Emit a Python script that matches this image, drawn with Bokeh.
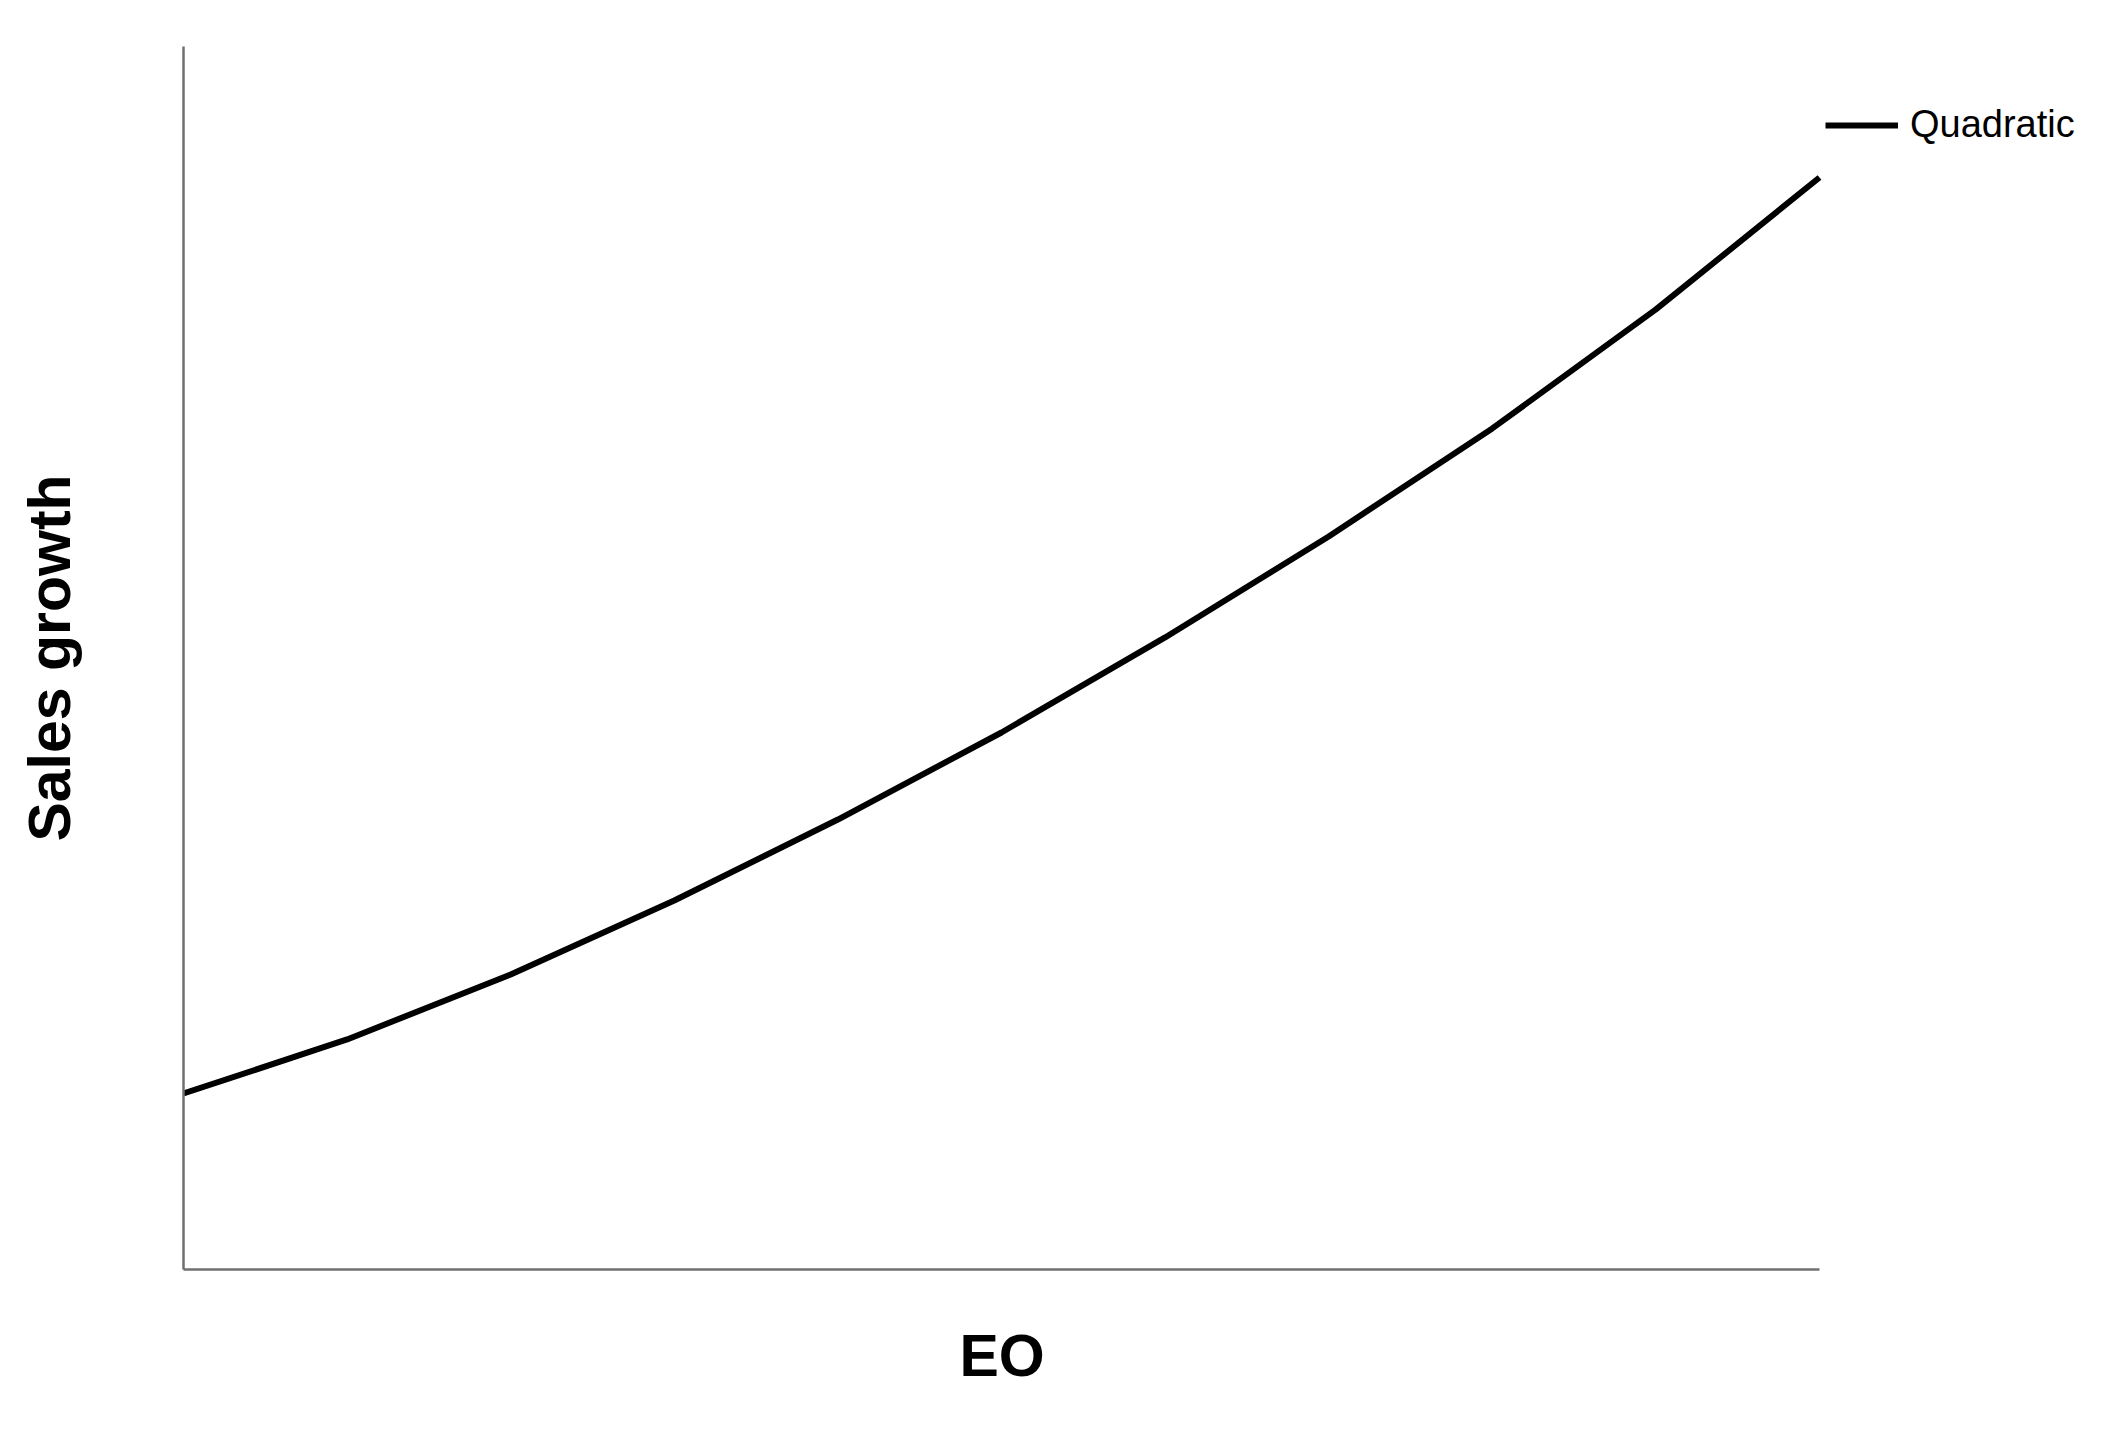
from bokeh.plotting import figure
from bokeh.models import Range1d, Legend, LegendItem, Title
from bokeh.embed import file_html
from bokeh.resources import INLINE

# Data (EO on x, Sales growth on y; arbitrary units, no ticks shown)
eo = [0, 1, 2, 3, 4, 5, 6, 7, 8, 9, 10]
sales_growth = [14.39, 18.81, 24.12, 30.17, 36.79, 43.91, 51.68, 59.94, 68.77, 78.50, 89.29]
series_name = "Quadratic"
x_label = "EO"
y_label = "Sales growth"

W, H = 2102, 1446
LEFT, RIGHT, TOP, BOTTOM = 183, 10, 46, 177
frame_w = W - LEFT - RIGHT
axis_px = 1636  # pixel length of the drawn x axis (0..10)
x_end = eo[-1] * frame_w / axis_px

p = figure(width=W, height=H, output_backend="svg", toolbar_location=None,
           x_range=Range1d(0, x_end), y_range=Range1d(0, 100),
           min_border_left=LEFT, min_border_right=RIGHT,
           min_border_top=TOP, min_border_bottom=BOTTOM)
p.background_fill_color = "white"
p.border_fill_color = "white"
p.outline_line_color = None
p.xgrid.visible = False
p.ygrid.visible = False

for ax in (p.xaxis[0], p.yaxis[0]):
    ax.ticker = []
    ax.major_tick_line_color = None
    ax.minor_tick_line_color = None
    ax.major_label_text_font_size = "0px"
    ax.axis_line_color = "#707070"
    ax.axis_line_width = 2.5
    ax.axis_label_text_font = "Liberation Sans"
    ax.axis_label_text_font_style = "bold"
    ax.axis_label_text_font_size = "59px"
    ax.axis_label_text_color = "black"

p.xaxis.bounds = (eo[0], eo[-1])
p.yaxis.axis_label = y_label
p.yaxis.axis_label_standoff = 101

# x-axis title centred under the drawn axis (not the wider frame)
p.add_layout(Title(text=x_label, align="left", offset=776,
                   text_font="Liberation Sans", text_font_style="bold",
                   text_font_size="59px", text_color="black", standoff=103), "below")

r = p.line(eo, sales_growth, line_color="black", line_width=6)

legend = Legend(items=[LegendItem(label=series_name, renderers=[r])],
                location=(axis_px + 6, 1123), border_line_color=None,
                background_fill_alpha=0, padding=0, margin=0,
                glyph_width=73, glyph_height=40, label_height=40,
                label_standoff=12, label_text_font="Liberation Sans",
                label_text_font_size="38px", label_text_color="black")
p.add_layout(legend, "center")

open("out.html", "w").write(file_html(p, INLINE))
